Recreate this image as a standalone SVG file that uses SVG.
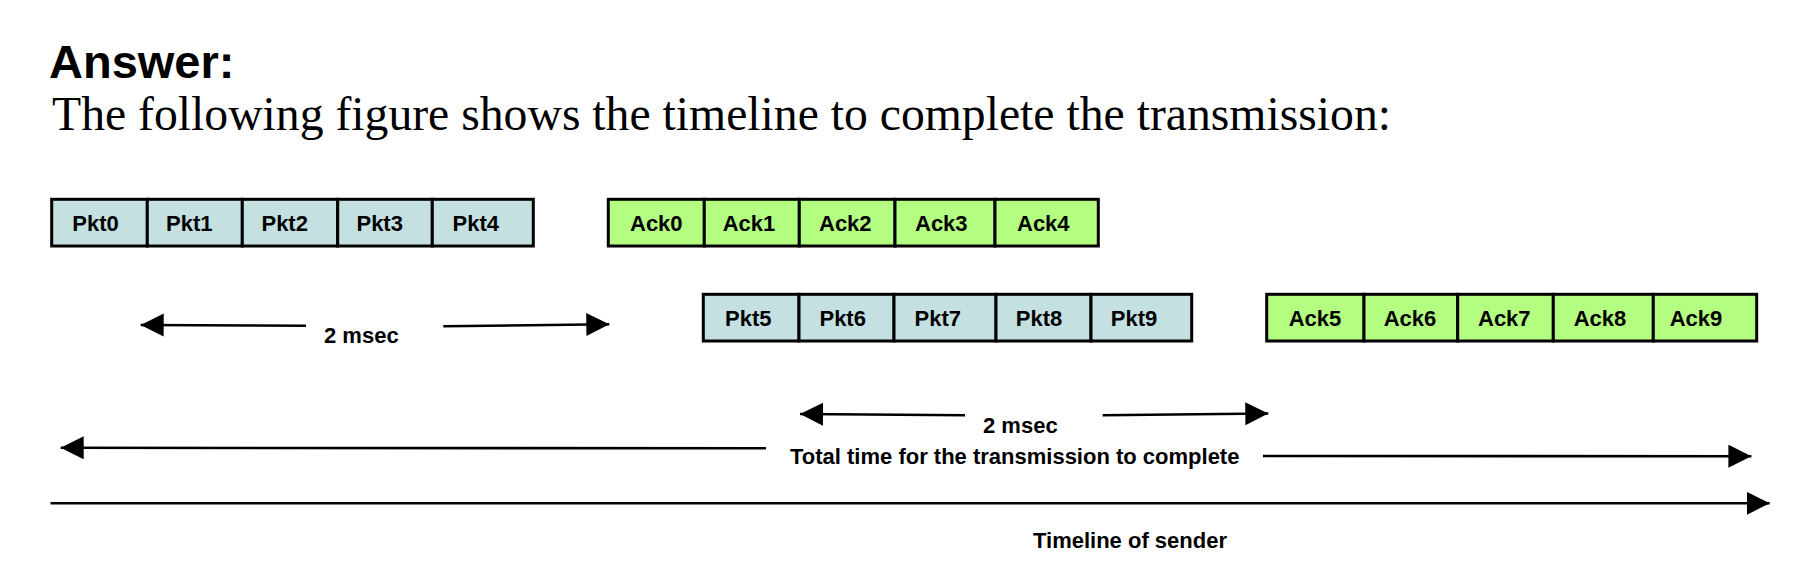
<svg xmlns="http://www.w3.org/2000/svg" width="1796" height="568" viewBox="0 0 1796 568">
<defs>
<style>
.pkt{fill:#c4e0e1;stroke:#000;stroke-width:3}
.ack{fill:#b3fd80;stroke:#000;stroke-width:3}
.lbl{font-family:"Liberation Sans",Arial,sans-serif;font-weight:bold;font-size:22px;fill:#000;text-anchor:middle}
.note{font-family:"Liberation Sans",Arial,sans-serif;font-weight:bold;font-size:22px;fill:#000}
.conn{stroke:#000;stroke-width:2.6;fill:none;marker-end:url(#ah)}
</style>
<marker id="ah" markerUnits="userSpaceOnUse" markerWidth="24" markerHeight="24" refX="23" refY="11.5" orient="auto" viewBox="0 0 24 24">
<path d="M0,0 L23,11.5 L0,23 Z" fill="#000"/>
</marker>
</defs>
<rect width="1796" height="568" fill="#fff"/>
<text x="49" y="78" font-family="'Liberation Sans',Arial,sans-serif" font-weight="bold" font-size="47">Answer:</text>
<text x="52" y="130" font-family="'Liberation Serif','Times New Roman',serif" font-size="47.7">The following figure shows the timeline to complete the transmission:</text>

<g id="pkt0"><rect class="pkt" x="51.7" y="199.3" width="95.6" height="46.7"/><text class="lbl" x="95.5" y="230.7">Pkt0</text></g>
<g id="pkt1"><rect class="pkt" x="147.3" y="199.3" width="95" height="46.7"/><text class="lbl" x="189.3" y="230.7">Pkt1</text></g>
<g id="pkt2"><rect class="pkt" x="242.3" y="199.3" width="95.4" height="46.7"/><text class="lbl" x="284.7" y="230.7">Pkt2</text></g>
<g id="pkt3"><rect class="pkt" x="337.7" y="199.3" width="94.6" height="46.7"/><text class="lbl" x="379.7" y="230.7">Pkt3</text></g>
<g id="pkt4"><rect class="pkt" x="432.3" y="199.3" width="101" height="46.7"/><text class="lbl" x="475.8" y="230.7">Pkt4</text></g>

<g id="ack0"><rect class="ack" x="608.3" y="199.3" width="96" height="46.7"/><text class="lbl" x="656.3" y="230.7">Ack0</text></g>
<g id="ack1"><rect class="ack" x="704.3" y="199.3" width="95" height="46.7"/><text class="lbl" x="749" y="230.7">Ack1</text></g>
<g id="ack2"><rect class="ack" x="799.3" y="199.3" width="95.7" height="46.7"/><text class="lbl" x="845.3" y="230.7">Ack2</text></g>
<g id="ack3"><rect class="ack" x="895" y="199.3" width="100" height="46.7"/><text class="lbl" x="941.3" y="230.7">Ack3</text></g>
<g id="ack4"><rect class="ack" x="995" y="199.3" width="103.3" height="46.7"/><text class="lbl" x="1043.3" y="230.7">Ack4</text></g>

<g id="pkt5"><rect class="pkt" x="703.3" y="294.3" width="95.7" height="46.7"/><text class="lbl" x="748.3" y="325.7">Pkt5</text></g>
<g id="pkt6"><rect class="pkt" x="799" y="294.3" width="95" height="46.7"/><text class="lbl" x="842.7" y="325.7">Pkt6</text></g>
<g id="pkt7"><rect class="pkt" x="894" y="294.3" width="102" height="46.7"/><text class="lbl" x="937.8" y="325.7">Pkt7</text></g>
<g id="pkt8"><rect class="pkt" x="996" y="294.3" width="95" height="46.7"/><text class="lbl" x="1039" y="325.7">Pkt8</text></g>
<g id="pkt9"><rect class="pkt" x="1091" y="294.3" width="100.7" height="46.7"/><text class="lbl" x="1134" y="325.7">Pkt9</text></g>

<g id="ack5"><rect class="ack" x="1266.7" y="294.3" width="97.3" height="46.7"/><text class="lbl" x="1315" y="325.7">Ack5</text></g>
<g id="ack6"><rect class="ack" x="1364" y="294.3" width="93.7" height="46.7"/><text class="lbl" x="1410" y="325.7">Ack6</text></g>
<g id="ack7"><rect class="ack" x="1457.7" y="294.3" width="95.6" height="46.7"/><text class="lbl" x="1504.3" y="325.7">Ack7</text></g>
<g id="ack8"><rect class="ack" x="1553.3" y="294.3" width="100" height="46.7"/><text class="lbl" x="1600" y="325.7">Ack8</text></g>
<g id="ack9"><rect class="ack" x="1653.3" y="294.3" width="103.4" height="46.7"/><text class="lbl" x="1696" y="325.7">Ack9</text></g>

<g id="connectors">
<line class="conn" x1="306" y1="325.8" x2="140.7" y2="325"/>
<line class="conn" x1="443.3" y1="326.2" x2="609.3" y2="324.3"/>
<line class="conn" x1="965" y1="415.3" x2="800" y2="414"/>
<line class="conn" x1="1102.7" y1="415.3" x2="1268.3" y2="413.5"/>
<line class="conn" x1="766" y1="448.3" x2="60.7" y2="447.8"/>
<line class="conn" x1="1263" y1="456" x2="1751.4" y2="456.2"/>
<line class="conn" x1="50.5" y1="503.3" x2="1769.7" y2="503.3"/>
</g>

<g id="labels">
<text class="note" x="324" y="343.3">2 msec</text>
<text class="note" x="983" y="432.5">2 msec</text>
<text class="note" x="790" y="463.5">Total time for the transmission to complete</text>
<text class="note" x="1033" y="548.3">Timeline of sender</text>
</g>
</svg>
